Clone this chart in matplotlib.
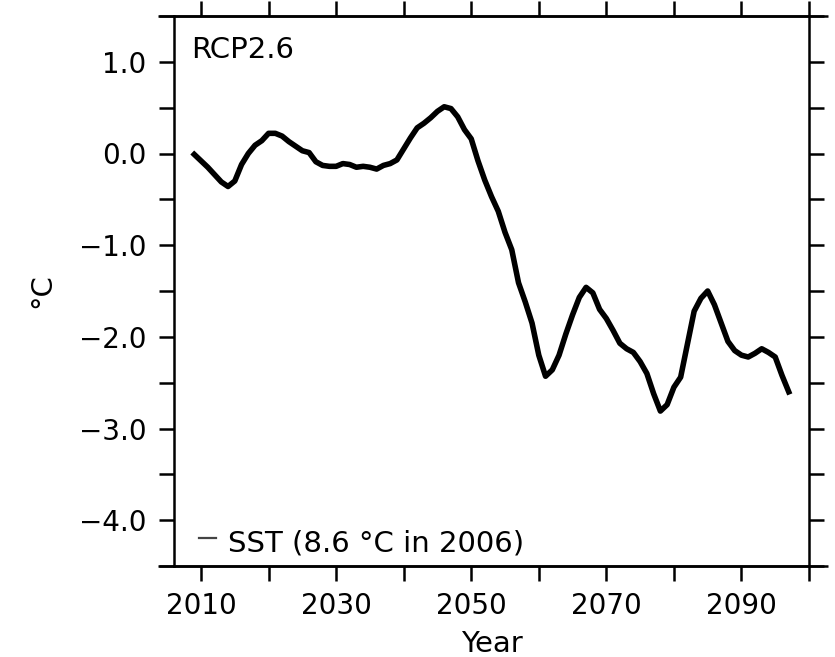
import matplotlib
matplotlib.use("Agg")
import matplotlib.pyplot as plt
import numpy as np

plt.rcParams['font.family'] = ['DejaVu Sans']

# SST anomaly, RCP2.6
years = np.arange(2009, 2098)
sst = [-0.01, -0.08, -0.15, -0.23, -0.31, -0.36, -0.30, -0.12, 0.00, 0.09,
       0.14, 0.22, 0.22, 0.19, 0.13, 0.08, 0.03, 0.01, -0.09, -0.13,
       -0.14, -0.14, -0.11, -0.12, -0.15, -0.14, -0.15, -0.17, -0.13, -0.11,
       -0.07, 0.05, 0.17, 0.28, 0.33, 0.39, 0.46, 0.51, 0.49, 0.40,
       0.26, 0.16, -0.08, -0.29, -0.47, -0.63, -0.86, -1.05, -1.41, -1.62,
       -1.85, -2.20, -2.43, -2.36, -2.20, -1.97, -1.76, -1.57, -1.46, -1.52,
       -1.70, -1.80, -1.93, -2.07, -2.13, -2.17, -2.27, -2.40, -2.62, -2.81,
       -2.74, -2.55, -2.44, -2.08, -1.72, -1.58, -1.50, -1.65, -1.85, -2.05,
       -2.15, -2.20, -2.22, -2.18, -2.13, -2.17, -2.22, -2.42, -2.60]

x_ticks = np.arange(2010, 2101, 10)
x_labels = ['2010', '', '2030', '', '2050', '', '2070', '', '2090', '']
y_ticks = np.arange(-4.5, 1.51, 0.5)
y_labels = [('%.1f' % v).replace('-', '\u2212') if v == int(v) else '' for v in y_ticks]
y_labels = [l if l != '\u22120.0' else '0.0' for l in y_labels]

fig = plt.figure(figsize=(8.35, 6.57), dpi=100)
ax = fig.add_axes([174/835, 1 - 566/657, 635/835, 550/657])

ax.plot(years, sst, color='black', lw=4, solid_joinstyle='round')

ax.set_xlim(2006, 2100)
ax.set_ylim(-4.5, 1.5)
ax.set_xticks(x_ticks)
ax.set_xticklabels(x_labels)
ax.set_yticks(y_ticks)
ax.set_yticklabels(y_labels)

ax.tick_params(direction='out', length=11, width=1.8, labelsize=20,
               top=True, right=True, pad=8)
ax.tick_params(axis='y', pad=9)
for s in ax.spines.values():
    s.set_linewidth(1.8)

# top and bottom frame lines run out to the tick ends
ext_l = 16 / 635
ext_r = 19 / 635
for yy in (0, 1):
    ax.plot([-ext_l, 1 + ext_r], [yy, yy], transform=ax.transAxes,
            color='black', lw=1.8, clip_on=False, solid_capstyle='butt')

ax.set_xlabel('Year', fontsize=21, labelpad=7)
ax.set_ylabel('°C', fontsize=21, labelpad=16)

ax.text(0.027, 0.9236, 'RCP2.6', transform=ax.transAxes, fontsize=21,
        ha='left', va='baseline')
ax.plot([0.039, 0.066], [0.051, 0.051], transform=ax.transAxes,
        color='#444444', lw=1.6)
ax.text(0.085, 0.027, 'SST (8.6 °C in 2006)', transform=ax.transAxes,
        fontsize=21, ha='left', va='baseline')

fig.savefig('out.png', dpi=100)
